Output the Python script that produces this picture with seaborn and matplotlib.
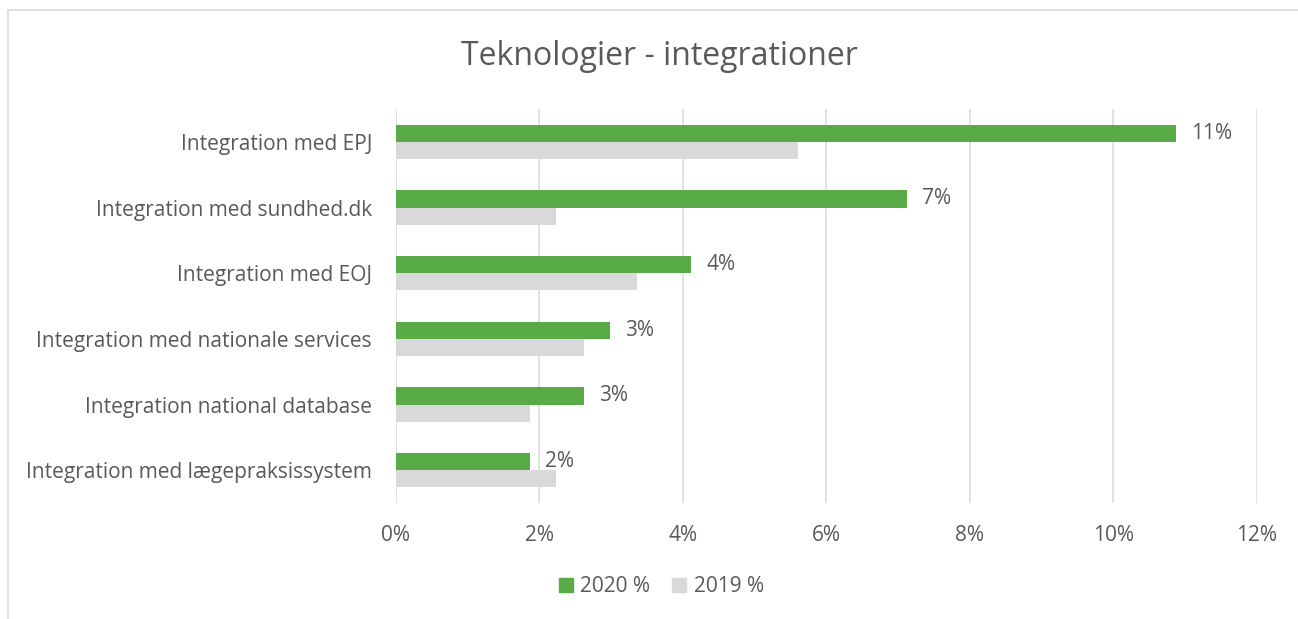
import pandas as pd
import seaborn as sns
import matplotlib.pyplot as plt
from matplotlib.lines import Line2D

# Values (percent)
categories = [
    "Integration med EPJ",
    "Integration med sundhed.dk",
    "Integration med EOJ",
    "Integration med nationale services",
    "Integration national database",
    "Integration med lægepraksissystem",
]
share_2020 = [10.87, 7.12, 4.12, 2.99, 2.62, 1.87]
share_2019 = [5.61, 2.24, 3.37, 2.62, 1.87, 2.24]
series_names = ["2020 %", "2019 %"]
x_ticks = [0, 2, 4, 6, 8, 10, 12]

df = pd.DataFrame({
    "category": categories * 2,
    "series": [series_names[0]] * len(categories) + [series_names[1]] * len(categories),
    "value": share_2020 + share_2019,
})

sns.set_style("white")
plt.rcParams["font.family"] = ["Open Sans", "DejaVu Sans"]
text_col = "#595959"
green = "#58AB47"
grey = "#D9D9D9"

fig = plt.figure(figsize=(12.98, 6.19), dpi=100)
ax = fig.add_axes([0.3047, 0.1874, 0.6637, 0.6365])

sns.barplot(data=df, x="value", y="category", hue="series", hue_order=series_names,
            palette=[green, grey], orient="h", width=0.52, linewidth=0, ax=ax,
            legend=False, saturation=1)

# data labels on the 2020 bars
ax.bar_label(ax.containers[0], labels=[f"{v:.0f}%" for v in share_2020],
             padding=11, fontsize=15, color=text_col)

ax.set_xlim(0, 12)
ax.set_ylim(5.5, -0.5)
ax.set_xticks(x_ticks)
ax.set_xticklabels([f"{t}%" for t in x_ticks])
ax.set_xlabel("")
ax.set_ylabel("")
ax.xaxis.grid(True, color=grey, linewidth=1.1)
ax.set_axisbelow(True)
for s in ax.spines.values():
    s.set_visible(False)
ax.tick_params(axis="x", length=0, pad=16, labelsize=15, labelcolor=text_col)
ax.tick_params(axis="y", length=0, pad=17, labelsize=15, labelcolor=text_col)

fig.text(0.508, 0.908, "Teknologier - integrationer", ha="center", va="center",
         fontsize=23, color=text_col)

handles = [Line2D([], [], marker="s", linestyle="", markersize=10, color=c) for c in (green, grey)]
fig.legend(handles, series_names, loc="center", bbox_to_anchor=(0.509, 0.052), ncol=2,
           frameon=False, fontsize=15, labelcolor=text_col, handletextpad=0.3,
           columnspacing=1.0, handlelength=0.8)

# light frame around the chart area (top and left edges visible)
fig.add_artist(Line2D([8 / 1298, 1], [1 - 10 / 619, 1 - 10 / 619], color="#D9D9D9", lw=1.2))
fig.add_artist(Line2D([8 / 1298, 8 / 1298], [0, 1 - 10 / 619], color="#D9D9D9", lw=1.2))

fig.savefig("out.png", dpi=100)
